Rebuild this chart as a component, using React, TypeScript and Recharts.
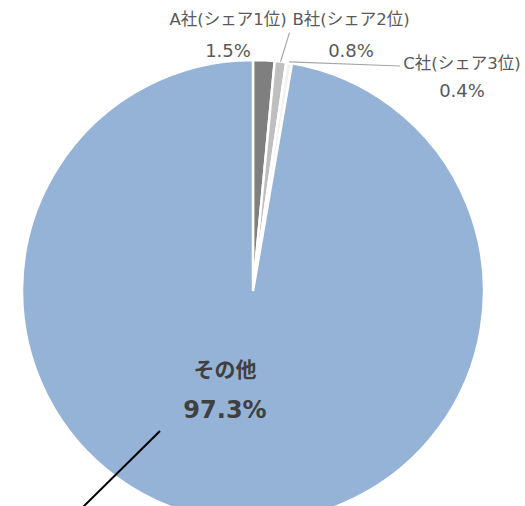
import React from "react";
import { PieChart, Pie, Cell } from "recharts";

// シェアデータ
const names = ["A社(シェア1位)", "B社(シェア2位)", "C社(シェア3位)", "その他"];
const shares = [1.5, 0.8, 0.4, 97.3];
const colors = ["#7f7f7f", "#bfbfbf", "#f2f2f2", "#95b3d7"];

const data = names.map((name, i) => ({ name, value: shares[i] }));

// ラベル位置 (円の中心からのずれ)
const labelPos = [
  { dx: -25, dy: -234, ly: -32 },
  { dx: 98, dy: -234, ly: -32 },
  { dx: 209, dy: -194, ly: -28 },
  { dx: -28, dy: 127, ly: -41 },
];

const FONT = "'DejaVu Sans', 'Noto Sans CJK JP', sans-serif";
const RAD = Math.PI / 180;

function renderLabel(props: any) {
  const { cx, cy, index, midAngle, outerRadius } = props;
  const p = labelPos[index];
  const x = cx + p.dx;
  const y = cy + p.dy;
  const pct = shares[index].toFixed(1) + "%";
  if (index === 3) {
    return (
      <g key={index}>
        <text x={x} y={y + p.ly} textAnchor="middle" fill="#404040" fontSize={21} fontWeight="bold" fontFamily={FONT}>
          {names[index]}
        </text>
        <text x={x} y={y} textAnchor="middle" fill="#404040" fontSize={24} fontWeight="bold" fontFamily={FONT}>
          {pct}
        </text>
      </g>
    );
  }
  const sx = cx + outerRadius * Math.cos(-midAngle * RAD);
  const sy = cy + outerRadius * Math.sin(-midAngle * RAD);
  let line = null;
  if (index === 1) {
    line = <line x1={sx} y1={sy} x2={sx + 9} y2={sy - 29} stroke="#a6a6a6" strokeWidth={1.2} />;
  } else if (index === 2) {
    line = <line x1={sx} y1={sy - 1} x2={x - 62} y2={cy - 225} stroke="#a6a6a6" strokeWidth={1.2} />;
  }
  return (
    <g key={index}>
      {line}
      <text x={x} y={y + p.ly} textAnchor="middle" fill="#595959" fontSize={16.5} fontFamily={FONT}>
        {names[index]}
      </text>
      <text x={x} y={y} textAnchor="middle" fill="#595959" fontSize={18} fontFamily={FONT}>
        {pct}
      </text>
    </g>
  );
}

export default function App() {
  return (
    <div style={{ position: "absolute", left: 0, top: 0, width: 525, height: 506, overflow: "hidden", background: "#fff" }}>
      <PieChart width={525} height={506} margin={{ top: 0, right: 0, bottom: 0, left: 0 }}>
        <Pie
          data={data}
          dataKey="value"
          nameKey="name"
          cx={253}
          cy={291}
          outerRadius={231}
          startAngle={90}
          endAngle={-270}
          stroke="#ffffff"
          strokeWidth={2.5}
          label={renderLabel}
          labelLine={false}
          isAnimationActive={false}
        >
          {data.map((d, i) => (
            <Cell key={d.name} fill={colors[i]} />
          ))}
        </Pie>
      </PieChart>
      {/* 注釈の線 */}
      <svg width={525} height={506} style={{ position: "absolute", left: 0, top: 0, pointerEvents: "none" }}>
        <line x1={160} y1={431} x2={82} y2={508} stroke="#000" strokeWidth={2} />
      </svg>
    </div>
  );
}
